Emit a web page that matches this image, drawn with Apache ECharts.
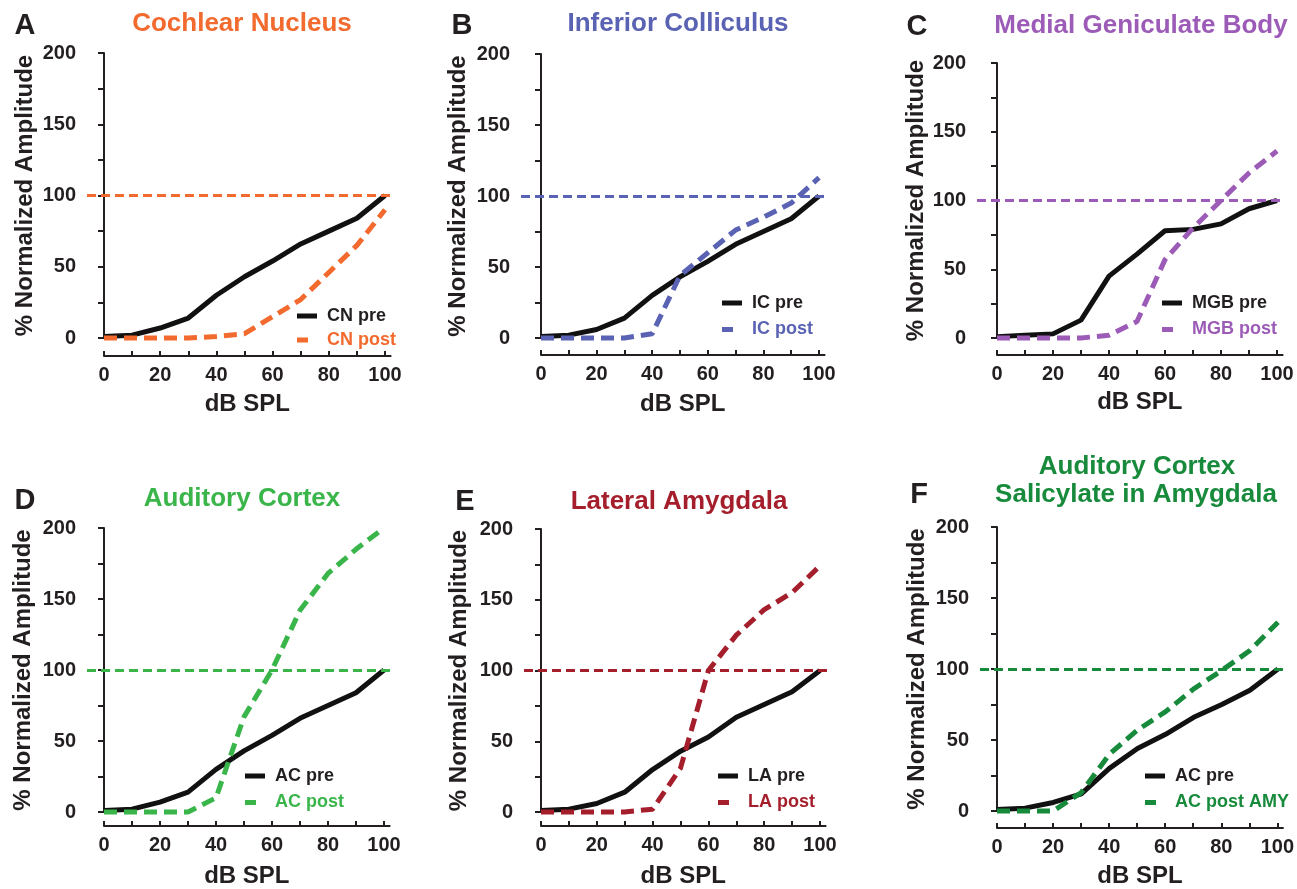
<!DOCTYPE html>
<html><head><meta charset="utf-8">
<script src="https://cdn.jsdelivr.net/npm/echarts@6/dist/echarts.min.js"></script>
<style>html,body{margin:0;padding:0;background:#fff}#c{width:1297px;height:889px}</style>
</head><body><div id="c"></div>
<script>
// ---- data ----
const dB = [0, 10, 20, 30, 40, 50, 60, 70, 80, 90, 100];
const xTickValues = [0, 10, 20, 30, 40, 50, 60, 70, 80, 90, 100];
const xLabelValues = [0, 20, 40, 60, 80, 100];
const yTickValues = [0, 25, 50, 75, 100, 125, 150, 175, 200];
const yLabelValues = [0, 50, 100, 150, 200];
const refLevel = 100;

const cnPre  = [1, 2, 7, 14, 30, 43, 54, 66, 75, 84, 100];
const cnPost = [0, 0, 0, 0, 1, 3, 15, 27, 46, 65, 90];
const icPre  = [1, 2, 6, 14, 30, 43, 54, 66, 75, 84, 100];
const icPost = [0, 0, 0, 0, 3, 44, 60, 76, 85, 95, 113];
const mgbPre  = [1, 2, 3, 13, 45, 61, 78, 79, 83, 94, 100];
const mgbPost = [0, 0, 0, 0, 2, 12, 57, 80, 100, 120, 136];
const acPre  = [1, 2, 7, 14, 30, 43, 54, 66, 75, 84, 100];
const acPost = [0, 0, 0, 0, 10, 67, 100, 142, 168, 185, 200];
const laPre  = [1, 2, 6, 14, 30, 43, 53, 67, 76, 85, 100];
const laPost = [0, 0, 0, 0, 2, 31, 100, 125, 143, 155, 174];
const acAmyPre  = [1, 2, 6, 12, 30, 44, 54, 66, 75, 85, 100];
const acAmyPost = [0, 0, 0, 13, 40, 57, 70, 86, 99, 113, 133];

const titles = {
  A: ['Cochlear Nucleus'], B: ['Inferior Colliculus'], C: ['Medial Geniculate Body'],
  D: ['Auditory Cortex'], E: ['Lateral Amygdala'], F: ['Auditory Cortex', 'Salicylate in Amygdala']
};
const yName = '% Normalized Amplitude';
const xName = 'dB SPL';

// ---- styling / layout ----
const FONT = 'Liberation Sans, Arial, Helvetica, sans-serif';
const INK = '#231F20';
const PRE_ICON = 'path://M0,0H20V5H0Z';
const POST_ICON = 'path://M0,0H11V5H0Z M20,0L20,5';
const panels = [
  {k:'A', color:'#F26A2E', pre:cnPre, post:cnPost, preName:'CN pre', postName:'CN post',
   x0:104, x100:385, yTop:53, yBot:338, yAx:87, xAx:356, letter:[25,26], title:[[242,24]], leg:[297,315,24], yNameX:25, xNameY:404},
  {k:'B', color:'#5A62B3', pre:icPre, post:icPost, preName:'IC pre', postName:'IC post',
   x0:541, x100:819, yTop:54, yBot:338, yAx:521, xAx:355, letter:[462,26], title:[[678,24]], leg:[722,302,26.5], yNameX:458, xNameY:404},
  {k:'C', color:'#9C5BB7', pre:mgbPre, post:mgbPost, preName:'MGB pre', postName:'MGB post',
   x0:997, x100:1277, yTop:63, yBot:338, yAx:977, xAx:355, letter:[917,27], title:[[1141,26]], leg:[1162,302,26.5], yNameX:917, xNameY:402},
  {k:'D', color:'#3AB54A', pre:acPre, post:acPost, preName:'AC pre', postName:'AC post',
   x0:104, x100:384, yTop:528, yBot:812, yAx:87, xAx:828, letter:[25,501], title:[[242,499]], leg:[245,775,26.5], yNameX:23, xNameY:878},
  {k:'E', color:'#A51E2B', pre:laPre, post:laPost, preName:'LA pre', postName:'LA post',
   x0:541, x100:820, yTop:529, yBot:812, yAx:524, xAx:828, letter:[465,502], title:[[679,502]], leg:[718,775,26.5], yNameX:459, xNameY:878},
  {k:'F', color:'#188A3C', pre:acAmyPre, post:acAmyPost, preName:'AC pre', postName:'AC post AMY',
   x0:997, x100:1278, yTop:527, yBot:811, yAx:980, xAx:828, letter:[919,495], title:[[1137,467],[1136,495]], leg:[1145,775,26.5], yNameX:917, xNameY:876}
];

const grid = [], xAxis = [], yAxis = [], series = [], legend = [], graphic = [];
panels.forEach((p) => {
  const s = (p.x100 - p.x0) / 100;
  const plotMax = 102.5, axisMax = 102;
  const gPlot = grid.length;
  grid.push({left: p.yAx, top: p.yTop, width: p.x0 + plotMax * s - p.yAx, height: p.yBot - p.yTop});
  const gAxis = grid.length;
  grid.push({left: p.x0, top: p.xAx - 20, width: axisMax * s, height: 20});

  xAxis.push({gridIndex: gPlot, type: 'value', min: -(p.x0 - p.yAx) / s, max: plotMax, show: false});
  yAxis.push({gridIndex: gPlot, type: 'value', min: 0, max: 200,
    axisLine: {show: true, lineStyle: {color: INK, width: 2}},
    axisTick: {show: true, customValues: yTickValues, length: 6, lineStyle: {color: INK, width: 2}},
    axisLabel: {customValues: yLabelValues, margin: 11, color: INK, fontSize: 20, fontWeight: 'bold', fontFamily: FONT},
    splitLine: {show: false},
    name: yName, nameLocation: 'middle', nameGap: p.yAx - p.yNameX - 12,
    nameTextStyle: {color: INK, fontSize: 24, fontWeight: 'bold', fontFamily: FONT}
  });
  xAxis.push({gridIndex: gAxis, type: 'value', min: 0, max: axisMax, position: 'bottom',
    axisLine: {show: true, onZero: false, lineStyle: {color: INK, width: 2}},
    axisTick: {show: true, inside: true, customValues: xTickValues, length: 5, lineStyle: {color: INK, width: 2}},
    axisLabel: {customValues: xLabelValues, margin: 9, color: INK, fontSize: 20, fontWeight: 'bold', fontFamily: FONT},
    splitLine: {show: false},
    name: xName, nameLocation: 'middle', nameGap: p.xNameY - 12 - p.xAx,
    nameTextStyle: {color: INK, fontSize: 24, fontWeight: 'bold', fontFamily: FONT}
  });
  yAxis.push({gridIndex: gAxis, type: 'value', min: 0, max: 1, show: false});

  const xi = gPlot, yi = gPlot;
  series.push({type: 'line', name: 'ref' + p.k, xAxisIndex: xi, yAxisIndex: yi, data: [], silent: true,
    markLine: {symbol: 'none', silent: true, label: {show: false}, animation: false,
      lineStyle: {color: p.color, type: [9, 5], width: 3}, data: [{yAxis: refLevel}]}, z: 1});
  series.push({type: 'line', name: p.preName, xAxisIndex: xi, yAxisIndex: yi, symbol: 'none', clip: false,
    data: dB.map((x, j) => [x, p.pre[j]]), lineStyle: {color: '#111', width: 5}, itemStyle: {color: '#111'}, z: 2});
  series.push({type: 'line', name: p.postName, xAxisIndex: xi, yAxisIndex: yi, symbol: 'none', clip: false,
    data: dB.map((x, j) => [x, p.post[j]]), lineStyle: {color: p.color, width: 5, type: [13, 7]}, itemStyle: {color: p.color}, z: 3});

  legend.push({orient: 'vertical', left: p.leg[0], top: p.leg[1] - 8, itemWidth: 20, itemHeight: 5,
    itemGap: p.leg[2] - 18, padding: 0, selectedMode: false,
    formatter: n => ' ' + n,
    textStyle: {fontSize: 18, fontWeight: 'bold', fontFamily: FONT},
    data: [{name: p.preName, icon: PRE_ICON, textStyle: {color: INK}},
           {name: p.postName, icon: POST_ICON, textStyle: {color: p.color}}]});

  graphic.push({type: 'text', x: p.letter[0], y: p.letter[1], style: {text: p.k, font: 'bold 29px ' + FONT, fill: INK,
    align: 'center', verticalAlign: 'middle', textAlign: 'center', textVerticalAlign: 'middle'}});
  titles[p.k].forEach((t, j) => {
    graphic.push({type: 'text', x: p.title[j][0], y: p.title[j][1], style: {text: t, font: 'bold 26px ' + FONT, fill: p.color,
      align: 'center', verticalAlign: 'middle', textAlign: 'center', textVerticalAlign: 'middle'}});
  });
});

const chart = echarts.init(document.getElementById('c'), null, {renderer: 'canvas'});
chart.setOption({animation: false, backgroundColor: '#fff', grid, xAxis, yAxis, series, legend, graphic});
</script></body></html>
